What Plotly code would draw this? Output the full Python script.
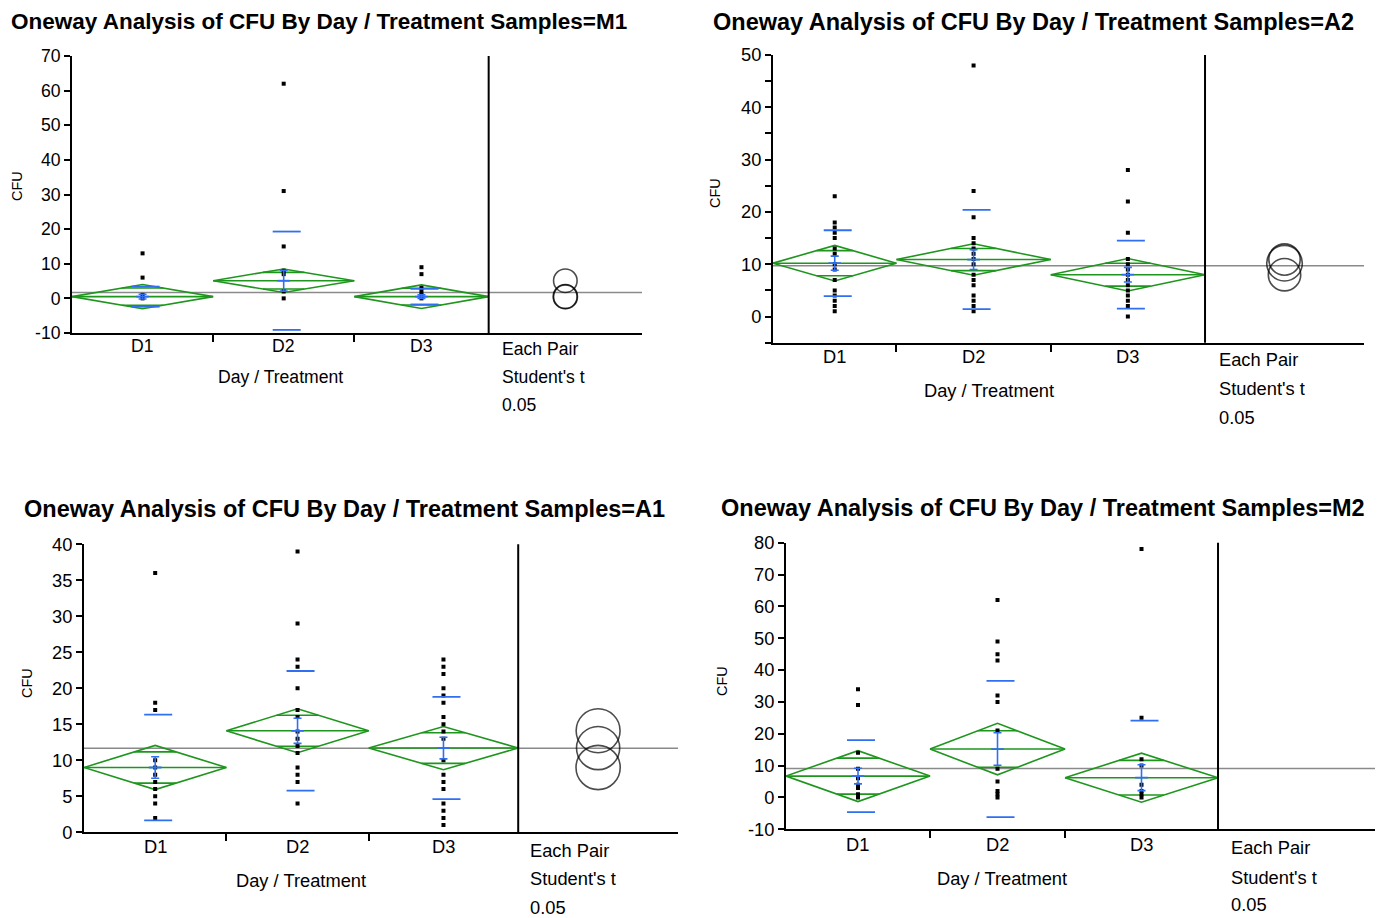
import math
import numpy as np
import plotly.graph_objects as go

W, H = 1383, 918          # target picture size
OFF = 8                    # page body margin of the browser
FW, FH = W - OFF, H - OFF  # figure size so that it ends at the picture edge
GROUPS = ["D1", "D2", "D3"]
TITLE_BASE = "Oneway Analysis of CFU By Day / Treatment Samples="

# ---------------- data ----------------
# Samples = M1
M1_N = [21, 21, 20]
M1_D1 = [13, 6, 1, 0]
M1_D2 = [62, 31, 15, 8, 7, 2, 0]
M1_D3 = [9, 7, 3, 2, 1, 0]
M1_MEAN = [0.5, 5.1, 0.5]
M1_CI = [3.5, 3.4, 3.4]
M1_SD = [2.9, 14.2, 2.25]
M1_SE = [0.7, 3.0, 0.5]
M1_GRAND = 1.7
M1_YTICKS = [-10, 0, 10, 20, 30, 40, 50, 60, 70]

# Samples = A2
A2_N = [16, 20, 20]
A2_D1 = [23, 18, 17, 16, 15, 13, 12, 10, 9, 7, 5, 4, 3, 2, 1]
A2_D2 = [48, 24, 19, 15, 14, 13, 12, 11, 10, 8, 7, 6, 4, 3, 2, 1]
A2_D3 = [28, 22, 16, 11, 10, 9, 8, 7, 6, 5, 4, 3, 2, 0]
A2_MEAN = [10.2, 10.9, 8.0]
A2_CI = [3.4, 3.0, 3.1]
A2_SD = [6.3, 9.5, 6.5]
A2_SE = [1.35, 1.9, 1.4]
A2_GRAND = 9.7
A2_YTICKS = [0, 10, 20, 30, 40, 50]

# Samples = A1
A1_N = [20, 20, 21]
A1_D1 = [36, 18, 17, 10, 9, 8, 7, 6, 5, 4, 2]
A1_D2 = [39, 29, 24, 23, 20, 17, 16, 14, 13, 12, 11, 9, 8, 7, 4]
A1_D3 = [24, 23, 22, 20, 19, 18, 16, 15, 14, 13, 10, 8, 7, 6, 4, 3, 2, 1]
A1_MEAN = [9.0, 14.1, 11.7]
A1_CI = [3.07, 3.05, 3.0]
A1_SD = [7.35, 8.3, 7.1]
A1_SE = [1.5, 1.75, 1.5]
A1_GRAND = 11.67
A1_YTICKS = [0, 5, 10, 15, 20, 25, 30, 35, 40]

# Samples = M2
M2_N = [16, 15, 17]
M2_D1 = [34, 29, 14, 9, 6, 4, 3, 1, 0]
M2_D2 = [62, 49, 45, 43, 32, 30, 21, 9, 5, 2, 1, 0]
M2_D3 = [78, 25, 12, 10, 4, 2, 1, 0]
M2_MEAN = [6.7, 15.2, 6.2]
M2_CI = [8.0, 8.1, 7.7]
M2_SD = [11.3, 21.4, 17.9]
M2_SE = [2.45, 5.1, 4.05]
M2_GRAND = 9.1
M2_YTICKS = [-10, 0, 10, 20, 30, 40, 50, 60, 70, 80]

# ---------------- styling / layout ----------------
FONT = "Liberation Sans, Arial, Helvetica, sans-serif"
GREEN = "#1e961e"
BLUE = "#2f6ff0"
GRAY = "#8a8a8a"
COMP_FRAC = 0.368  # width of comparison-circle area relative to group area

PANELS = [
    dict(name="M1", n=M1_N, pts=[M1_D1, M1_D2, M1_D3], mean=M1_MEAN, ci=M1_CI,
         sd=M1_SD, se=M1_SE, grand=M1_GRAND, yticks=M1_YTICKS, yrange=[-10, 70],
         yminor=None, circles=True,
         xpx=(72, 642), ypx=(56, 333), title=(9, 22, 22.5),
         lab_y=346, xt_y=377, yt=(17, 186), ep=(500, 349, 377, 405), fs=17.6),
    dict(name="A2", n=A2_N, pts=[A2_D1, A2_D2, A2_D3], mean=A2_MEAN, ci=A2_CI,
         sd=A2_SD, se=A2_SE, grand=A2_GRAND, yticks=A2_YTICKS, yrange=[-5, 50],
         yminor=5, circles=True,
         xpx=(773, 1364), ypx=(55, 342.7), title=(711, 22, 23.5),
         lab_y=356, xt_y=390, yt=(715, 193), ep=(1217, 360, 388, 418), fs=18.3),
    dict(name="A1", n=A1_N, pts=[A1_D1, A1_D2, A1_D3], mean=A1_MEAN, ci=A1_CI,
         sd=A1_SD, se=A1_SE, grand=A1_GRAND, yticks=A1_YTICKS, yrange=[0, 40],
         yminor=None, circles=True,
         xpx=(84, 678), ypx=(544.3, 832.3), title=(22, 509, 23.5),
         lab_y=846, xt_y=880, yt=(27, 683), ep=(528, 850, 878, 907), fs=18.3),
    dict(name="M2", n=M2_N, pts=[M2_D1, M2_D2, M2_D3], mean=M2_MEAN, ci=M2_CI,
         sd=M2_SD, se=M2_SE, grand=M2_GRAND, yticks=M2_YTICKS, yrange=[-10, 80],
         yminor=None, circles=False,
         xpx=(786, 1377), ypx=(542.7, 829.3), title=(719, 508, 23.5),
         lab_y=844, xt_y=878, yt=(722, 681), ep=(1229, 847, 877, 904), fs=18.3),
]


def px(x):
    return (x - OFF) / FW


def py(y):
    return 1 - (y - OFF) / FH


fig = go.Figure()
annotations = []
shapes = []

for k, P in enumerate(PANELS, start=1):
    xa = "x" if k == 1 else f"x{k}"
    ya = "y" if k == 1 else f"y{k}"
    xkey = "xaxis" if k == 1 else f"xaxis{k}"
    ykey = "yaxis" if k == 1 else f"yaxis{k}"

    n = np.array(P["n"], dtype=float)
    edges = np.concatenate([[0.0], np.cumsum(n)])
    total = edges[-1]
    xend = total * (1 + COMP_FRAC)
    centers = (edges[:-1] + edges[1:]) / 2
    comp_c = (total + xend) / 2
    x0px, x1px = P["xpx"]
    ytop, ybot = P["ypx"]
    ymin, ymax = P["yrange"]
    px_per_x = (x1px - x0px) / xend
    px_per_y = (ybot - ytop) / (ymax - ymin)
    xoff = 3 / px_per_x

    # grand mean line
    fig.add_trace(go.Scatter(x=[0, xend], y=[P["grand"], P["grand"]], mode="lines",
                             line=dict(color=GRAY, width=1.6), xaxis=xa, yaxis=ya,
                             hoverinfo="skip", showlegend=False))

    # means diamonds
    dx, dy = [], []
    for i in range(3):
        l, r, c = edges[i], edges[i + 1], centers[i]
        m, ci = P["mean"][i], P["ci"][i]
        dx += [l, c, r, c, l, None, l, r, None]
        dy += [m, m + ci, m, m - ci, m, None, m, m, None]
        h = ci / math.sqrt(2)
        hw = (r - l) / 2 * (1 - 1 / math.sqrt(2))
        dx += [c - hw, c + hw, None, c - hw, c + hw, None]
        dy += [m + h, m + h, None, m - h, m - h, None]
    fig.add_trace(go.Scatter(x=dx, y=dy, mode="lines", line=dict(color=GREEN, width=1.6),
                             xaxis=xa, yaxis=ya, hoverinfo="skip", showlegend=False))

    # raw points
    for i in range(3):
        vals = P["pts"][i]
        fig.add_trace(go.Scatter(x=[centers[i]] * len(vals), y=vals, mode="markers",
                                 marker=dict(symbol="square", size=4, color="black"),
                                 xaxis=xa, yaxis=ya, showlegend=False))

    # std dev lines
    sx, sy = [], []
    for i in range(3):
        m, sd = P["mean"][i], P["sd"][i]
        sx += [centers[i] + xoff, centers[i] + xoff]
        sy += [m + sd, m - sd]
    fig.add_trace(go.Scatter(x=sx, y=sy, mode="markers",
                             marker=dict(symbol="line-ew-open", size=20, color=BLUE,
                                         line=dict(color=BLUE, width=1.8)),
                             xaxis=xa, yaxis=ya, showlegend=False))

    # mean +- SE error bars
    fig.add_trace(go.Scatter(x=list(centers), y=P["mean"], mode="markers",
                             marker=dict(symbol="line-ew-open", size=9, color=BLUE,
                                         line=dict(color=BLUE, width=1.8)),
                             error_y=dict(type="data", array=P["se"], visible=True,
                                          color=BLUE, thickness=1.6, width=4),
                             xaxis=xa, yaxis=ya, showlegend=False))

    # comparison circles
    if P["circles"]:
        sizes = [2 * ci * px_per_y for ci in P["ci"]]
        fig.add_trace(go.Scatter(x=[comp_c] * 3, y=P["mean"], mode="markers",
                                 marker=dict(symbol="circle-open", size=sizes, color="black",
                                             line=dict(color="black", width=1.6)),
                                 xaxis=xa, yaxis=ya, showlegend=False))

    # vertical separator between groups and circles
    shapes.append(dict(type="line", xref=xa, yref=f"{ya} domain", x0=total, x1=total,
                       y0=0, y1=1, line=dict(color="black", width=2)))

    fig.update_layout(**{
        xkey: dict(domain=[px(x0px), px(x1px)], range=[0, xend], anchor=ya,
                   automargin=False,
                   showline=True, linecolor="black", linewidth=2, ticks="",
                   showticklabels=False, showgrid=False, zeroline=False,
                   minor=dict(tickmode="array", tickvals=list(edges[1:-1]),
                              ticks="outside", ticklen=7, tickwidth=2,
                              tickcolor="black", showgrid=False),
                   fixedrange=True),
        ykey: dict(domain=[py(ybot), py(ytop)], range=[ymin, ymax], anchor=xa,
                   automargin=False,
                   showline=True, linecolor="black", linewidth=2,
                   tickmode="array", tickvals=P["yticks"],
                   ticktext=[str(v) for v in P["yticks"]], ticks="outside",
                   ticklen=6, tickwidth=1.5, tickcolor="black",
                   tickfont=dict(family=FONT, size=P["fs"], color="black"),
                   showgrid=False, zeroline=False, fixedrange=True,
                   minor=(dict(dtick=P["yminor"], ticks="outside", ticklen=6,
                               tickwidth=1.5, tickcolor="black", showgrid=False)
                          if P["yminor"] else None)),
    })

    # titles & text
    tx, tyy, tfs = P["title"]
    annotations.append(dict(xref="paper", yref="paper", x=px(tx), y=py(tyy),
                            xanchor="left", yanchor="middle", showarrow=False,
                            text="<b>" + TITLE_BASE + P["name"] + "</b>",
                            font=dict(family=FONT, size=tfs, color="black")))
    for i, g in enumerate(GROUPS):
        annotations.append(dict(xref=xa, yref="paper", x=centers[i], y=py(P["lab_y"]),
                                xanchor="center", yanchor="middle", showarrow=False,
                                text=g, font=dict(family=FONT, size=P["fs"], color="black")))
    annotations.append(dict(xref=xa, yref="paper", x=total / 2,
                            y=py(P["xt_y"]), xanchor="center", yanchor="middle",
                            showarrow=False, text="Day / Treatment",
                            font=dict(family=FONT, size=P["fs"], color="black")))
    ytx, yty = P["yt"]
    annotations.append(dict(xref="paper", yref="paper", x=px(ytx), y=py(yty),
                            xanchor="center", yanchor="middle", showarrow=False,
                            text="CFU", textangle=-90, borderpad=0,
                            font=dict(family=FONT, size=14.5, color="black")))
    ex, e1, e2, e3 = P["ep"]
    for yy, txt in [(e1, "Each Pair"), (e2, "Student's t"), (e3, "0.05")]:
        annotations.append(dict(xref="paper", yref="paper", x=px(ex), y=py(yy),
                                xanchor="left", yanchor="middle", showarrow=False,
                                text=txt, font=dict(family=FONT, size=P["fs"], color="black")))

fig.update_layout(width=FW, height=FH, margin=dict(l=0, r=0, t=0, b=0, pad=0),
                  autosize=False,
                  paper_bgcolor="white", plot_bgcolor="white",
                  annotations=annotations, shapes=shapes, showlegend=False,
                  font=dict(family=FONT, color="black"))

fig.write_html("out.html")
